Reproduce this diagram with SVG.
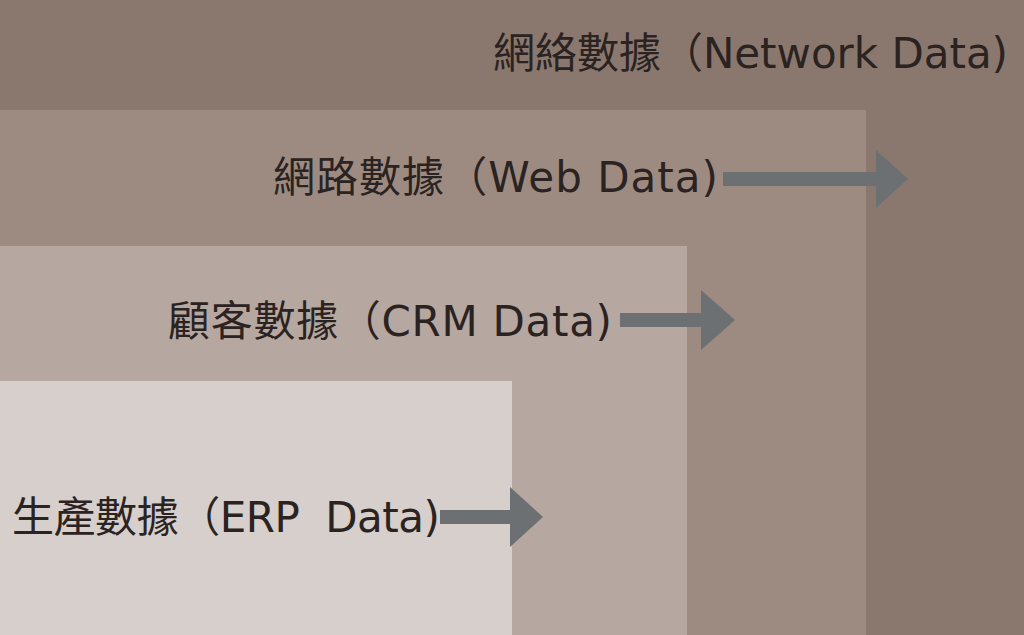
<svg xmlns="http://www.w3.org/2000/svg" width="1024" height="635" viewBox="0 0 1024 635">
<style>
.lbl{font-family:"DejaVu Sans","Noto Sans CJK TC",sans-serif;font-size:42px;fill:#2b2321;white-space:pre}
.arr{fill:#6d7073}
</style>
<g id="network"><rect x="0" y="0" width="1024" height="635" fill="#8a786e"/><text class="lbl" x="493" y="68" textLength="515" lengthAdjust="spacing" xml:space="preserve">網絡數據（Network Data)</text></g>
<g id="web"><rect x="0" y="110" width="866" height="525" fill="#9d8b81"/><text class="lbl" x="273" y="192" textLength="445" lengthAdjust="spacing" xml:space="preserve">網路數據（Web Data)</text></g>
<g id="crm"><rect x="0" y="246" width="687" height="389" fill="#b6a8a1"/><text class="lbl" x="168" y="336" textLength="444" lengthAdjust="spacing" xml:space="preserve">顧客數據（CRM Data)</text></g>
<g id="erp"><rect x="0" y="381" width="512" height="254" fill="#d6cfcb"/><text class="lbl" x="12" y="532" textLength="428" lengthAdjust="spacing" xml:space="preserve">生產數據（ERP  Data)</text></g>
<g id="connectors">
<polygon class="arr" points="723,172 876,172 876,150 908,179 876,208 876,186 723,186"/>
<polygon class="arr" points="620,313 701,313 701,290 735,320 701,350 701,327 620,327"/>
<polygon class="arr" points="440,510 510,510 510,487 543,517 510,547 510,524 440,524"/>
</g>
</svg>
